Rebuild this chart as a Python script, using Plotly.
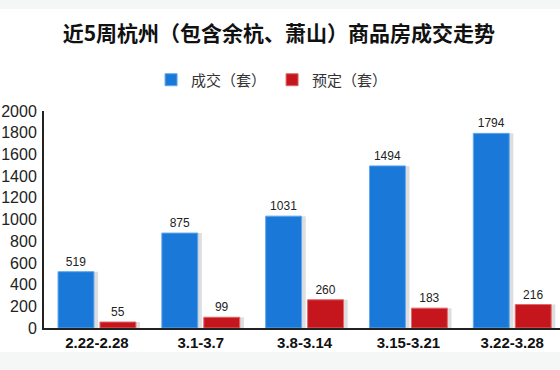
import plotly.graph_objects as go

categories = ["2.22-2.28", "3.1-3.7", "3.8-3.14", "3.15-3.21", "3.22-3.28"]
deals = [519, 875, 1031, 1494, 1794]
reserved = [55, 99, 260, 183, 216]
y_ticks = list(range(0, 2001, 200))

BLUE = "#1a78d8"
RED = "#c4161c"
BAR_W = 0.346
BLUE_OFF = -0.375
RED_OFF = 0.029
SH = 0.04

fig = go.Figure()

# drop shadows
for vals, off in ((deals, BLUE_OFF), (reserved, RED_OFF)):
    fig.add_trace(go.Bar(
        x=categories, y=vals, offset=off + SH, width=BAR_W,
        marker=dict(color="rgba(0,0,0,0.13)", line=dict(width=0)),
        showlegend=False, hoverinfo="skip",
    ))

fig.add_trace(go.Bar(
    name="成交（套）", x=categories, y=deals, offset=BLUE_OFF, width=BAR_W,
    marker=dict(color=BLUE, line=dict(color="#62a8ee", width=1)),
    text=deals, textposition="outside", cliponaxis=False,
    textfont=dict(family="Liberation Sans, Arial", size=12, color="#222"),
))
fig.add_trace(go.Bar(
    name="预定（套）", x=categories, y=reserved, offset=RED_OFF, width=BAR_W,
    marker=dict(color=RED, line=dict(color="#e0686c", width=1)),
    text=reserved, textposition="outside", cliponaxis=False,
    textfont=dict(family="Liberation Sans, Arial", size=12, color="#222"),
))

# background strips (decoration)
fig.add_shape(type="rect", xref="paper", yref="paper", x0=-0.1, x1=1.01,
              y0=1.470, y1=1.52, fillcolor="#f5f7f7", line_width=0, layer="below")
fig.add_shape(type="rect", xref="paper", yref="paper", x0=-0.1, x1=1.01,
              y0=-0.2, y1=-0.1106, fillcolor="#f5f7f7", line_width=0, layer="below")

fig.update_layout(
    width=560, height=370,
    margin=dict(l=44, r=0, t=111, b=42, autoexpand=False),
    paper_bgcolor="white", plot_bgcolor="white",
    barmode="overlay",
    title=dict(text="<b>近5周杭州（包含余杭、萧山）商品房成交走势</b>",
               x=0.498, xref="container", xanchor="center",
               y=1 - 34 / 370, yref="container", yanchor="middle",
               font=dict(family="Noto Sans CJK SC", size=21, color="#111")),
    legend=dict(orientation="h", x=0.442, xanchor="center", y=1.143, yanchor="middle",
                font=dict(family="Noto Sans CJK SC", size=15, color="#333"),
                bgcolor="rgba(0,0,0,0)", traceorder="normal", itemwidth=30,
                entrywidth=76, entrywidthmode="pixels"),
    xaxis=dict(type="category", range=[-0.51, 4.46], showline=True, linecolor="#222",
               linewidth=2, ticks="", showgrid=False, automargin=False,
               tickfont=dict(family="Liberation Sans, Arial", size=15, color="#111"),
               tickprefix="<b>", ticksuffix="</b>"),
    yaxis=dict(range=[0, 2000], tickvals=y_ticks, showline=True, linecolor="#222",
               linewidth=2, showgrid=False, zeroline=False, ticks="", automargin=False,
               tickfont=dict(family="Liberation Sans, Arial", size=16, color="#222"),
               ticklabelstandoff=2),
    showlegend=True,
)

fig.write_html("out.html", config={"displayModeBar": False},
               post_script="document.body.style.margin='0';")
